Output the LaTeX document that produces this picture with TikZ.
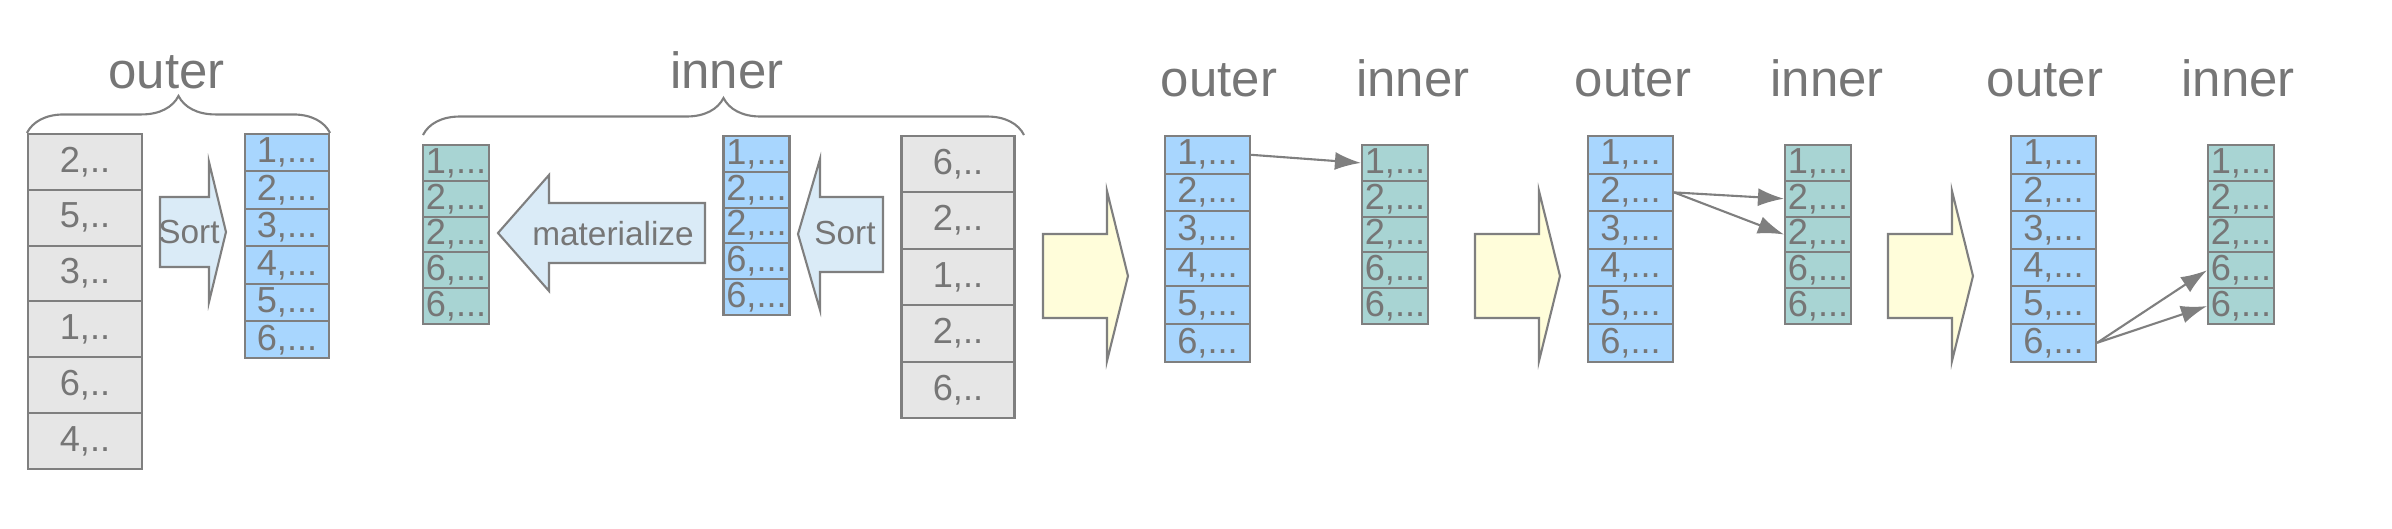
\documentclass[tikz,border=0pt]{standalone}
\usepackage{fontspec}
\setmainfont{Liberation Sans}
\usepackage{tikz}
\usetikzlibrary{positioning,decorations.pathreplacing,shapes,arrows.meta}
\definecolor{txtgray}{HTML}{767676}
\definecolor{linegray}{HTML}{7F7F7F}
\definecolor{cellgray}{HTML}{E6E6E6}
\definecolor{cellblue}{HTML}{A8D6FE}
\definecolor{cellteal}{HTML}{A8D4D3}
\definecolor{arrowblue}{HTML}{DAEBF7}
\definecolor{arrowyellow}{HTML}{FFFDDA}
\tikzstyle{cell}=[draw=linegray, line width=0.6pt, inner sep=0pt, text=txtgray, font=\fontsize{10.3}{12}\selectfont]
\tikzstyle{gcell}=[cell, fill=cellgray]
\tikzstyle{bcell}=[cell, fill=cellblue]
\tikzstyle{tcell}=[cell, fill=cellteal]
\tikzstyle{barrow}=[draw=linegray, line width=0.6pt, fill=arrowblue]
\tikzstyle{yarrow}=[draw=linegray, line width=0.6pt, fill=arrowyellow]
\tikzstyle{atxt}=[text=txtgray, inner sep=0pt, font=\fontsize{9.5}{12}\selectfont]
\tikzstyle{lbl}=[text=txtgray, inner sep=0pt, anchor=base, font=\fontsize{14.5}{17}\selectfont]
\tikzstyle{brc}=[draw=linegray, line width=0.6pt, decorate, decoration={brace, amplitude=0.37cm}]
\tikzstyle{link}=[draw=linegray, line width=0.6pt, -{Latex[length=0.26cm,width=0.18cm]}]

\begin{document}
\begin{tikzpicture}
\useasboundingbox (0,0) rectangle (23.92,-5.28);

\foreach \v [count=\i] in {2,5,3,1,6,4}
  \node[gcell, minimum width=1.14cm, minimum height=0.558cm] (so\i) at (0.85,{-1.34-0.558*(\i-0.5)}) {\v,..};
\foreach \v [count=\i] in {1,2,3,4,5,6}
  \node[bcell, minimum width=0.84cm, minimum height=0.374cm] (oo\i) at (2.87,{-1.34-0.374*(\i-0.5)}) {\v,...};
\draw[barrow] (1.60,-1.97) -- (2.09,-1.97) -- (2.09,-1.62) -- (2.26,-2.32) -- (2.09,-3.02) -- (2.09,-2.67) -- (1.60,-2.67) -- cycle;
\node[atxt] (sortA) at (1.89,-2.32) {Sort};
\draw[brc] (so1.north west) -- (oo1.north east);
\node[lbl] (outerA) at (1.665,-0.88) {outer};

\foreach \v [count=\i] in {1,2,2,6,6}
  \node[tcell, minimum width=0.66cm, minimum height=0.358cm] (mi\i) at (4.56,{-1.45-0.358*(\i-0.5)}) {\v,...};
\foreach \v [count=\i] in {1,2,2,6,6}
  \node[bcell, minimum width=0.66cm, minimum height=0.358cm] (si\i) at (7.565,{-1.36-0.358*(\i-0.5)}) {\v,...};
\foreach \v [count=\i] in {6,2,1,2,6}
  \node[gcell, minimum width=1.13cm, minimum height=0.564cm] (ri\i) at (9.58,{-1.36-0.564*(\i-0.5)}) {\v,..};
\draw[barrow] (7.05,-2.03) -- (5.49,-2.03) -- (5.49,-1.75) -- (4.98,-2.33) -- (5.49,-2.91) -- (5.49,-2.63) -- (7.05,-2.63) -- cycle;
\node[atxt] (mat) at (6.13,-2.335) {materialize};
\draw[barrow] (8.83,-1.97) -- (8.20,-1.97) -- (8.20,-1.59) -- (7.98,-2.34) -- (8.20,-3.10) -- (8.20,-2.72) -- (8.83,-2.72) -- cycle;
\node[atxt] (sortB) at (8.45,-2.33) {Sort};
\draw[brc] (4.23,-1.35) -- (10.24,-1.35);
\node[lbl] (innerA) at (7.27,-0.88) {inner};

\foreach \n/\ax/\bx/\tx/\ox/\ix in {2/10.43/12.075/13.95/12.19/14.13, 3/14.75/16.305/18.18/16.33/18.27, 4/18.88/20.535/22.41/20.45/22.38} {
  \draw[yarrow] (\ax,-2.34) -- ++(0.64,0) -- ++(0,0.43) -- ++(0.21,-0.85) -- ++(-0.21,-0.85) -- ++(0,0.43) -- ++(-0.64,0) -- cycle;
  \foreach \v [count=\i] in {1,2,3,4,5,6}
    \node[bcell, minimum width=0.85cm, minimum height=0.376cm] (b\n-\i) at (\bx,{-1.36-0.376*(\i-0.5)}) {\v,...};
  \foreach \v [count=\i] in {1,2,2,6,6}
    \node[tcell, minimum width=0.66cm, minimum height=0.358cm] (t\n-\i) at (\tx,{-1.45-0.358*(\i-0.5)}) {\v,...};
  \node[lbl] (outer\n) at (\ox,-0.96) {outer};
  \node[lbl] (inner\n) at (\ix,-0.96) {inner};
}

\draw[link] (b2-1.east) -- (t2-1.west);
\draw[link] (b3-2.east) -- (t3-2.west);
\draw[link] (b3-2.east) -- (t3-3.west);
\draw[link] (b4-6.east) -- (t4-4.west);
\draw[link] (b4-6.east) -- (t4-5.west);
\end{tikzpicture}
\end{document}
